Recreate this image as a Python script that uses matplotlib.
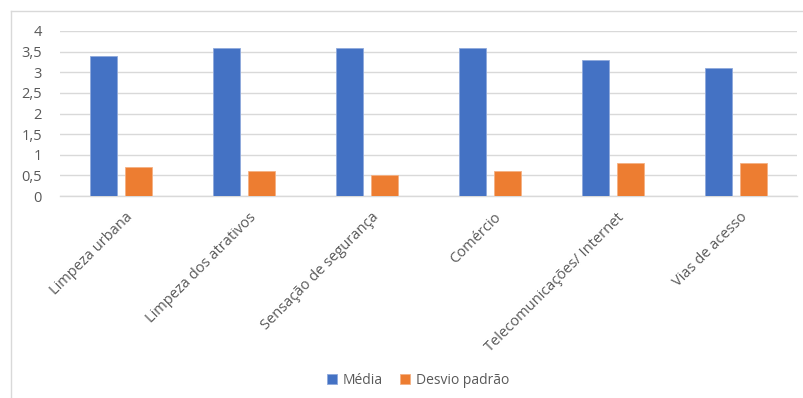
import matplotlib
matplotlib.use("Agg")
import matplotlib.pyplot as plt
from matplotlib.lines import Line2D
from matplotlib.ticker import FuncFormatter
from matplotlib.transforms import ScaledTranslation
import numpy as np

categorias = ["Limpeza urbana", "Limpeza dos atrativos", "Sensação de segurança",
              "Comércio", "Telecomunicações/ Internet", "Vias de acesso"]
media = [3.4, 3.6, 3.6, 3.6, 3.3, 3.1]
desvio = [0.7, 0.6, 0.5, 0.6, 0.8, 0.8]
yticks = [0, 0.5, 1, 1.5, 2, 2.5, 3, 3.5, 4]

plt.rcParams['font.family'] = ['Open Sans', 'DejaVu Sans']

W, H = 804, 398
fig = plt.figure(figsize=(W / 100, H / 100), dpi=100)
ax = fig.add_axes([60 / W, 1 - 196 / H, (797 - 60) / W, (196 - 31) / H])

x = np.arange(len(categorias))
w = 0.22
off = 0.143
azul = "#4472C4"
laranja = "#ED7D31"
ax.bar(x - off, media, w, color=azul, edgecolor="#8FA9DC", linewidth=0.6, label="Média", zorder=3)
ax.bar(x + off, desvio, w, color=laranja, edgecolor="#F4B183", linewidth=0.6, label="Desvio padrão", zorder=3)

ax.set_xlim(-0.5, len(categorias) - 0.5)
ax.set_ylim(0, 4)
ax.set_yticks(yticks)
ax.yaxis.set_major_formatter(FuncFormatter(lambda v, p: f"{v:g}".replace(".", ",")))
ax.grid(axis="y", color="#D9D9D9", linewidth=1, zorder=0)
for s in ["top", "right", "left"]:
    ax.spines[s].set_visible(False)
ax.spines["bottom"].set_color("#D9D9D9")
ax.spines["bottom"].set_linewidth(1)
ax.tick_params(axis="both", length=0, colors="#595959", labelsize=10.5)
ax.tick_params(axis="y", pad=13)
ax.set_xticks(x)
ax.set_xticklabels(categorias, rotation=45, ha="right", va="top", rotation_mode="anchor")
ax.tick_params(axis="x", pad=10)
shift = ScaledTranslation(4 / 100, 0, fig.dpi_scale_trans)
for lbl in ax.get_xticklabels():
    lbl.set_transform(lbl.get_transform() + shift)

# outer chart frame (top and left edges)
fig.add_artist(Line2D([11 / W, 1], [1 - 11 / H, 1 - 11 / H], color="#D9D9D9", lw=1))
fig.add_artist(Line2D([11 / W, 11 / W], [0, 1 - 11 / H], color="#D9D9D9", lw=1))

leg = fig.legend(loc="center", bbox_to_anchor=(418 / W, 1 - 380 / H), ncol=2, frameon=False,
                 fontsize=10, handlelength=0.7, handleheight=0.7, handletextpad=0.4,
                 columnspacing=1.3)
for t in leg.get_texts():
    t.set_color("#595959")

fig.savefig("out.png", dpi=100, facecolor="white")
